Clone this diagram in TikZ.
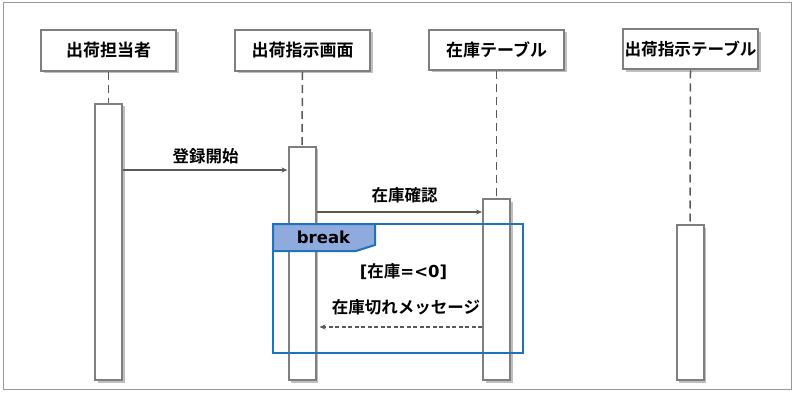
\documentclass[tikz,border=0pt]{standalone}
\usepackage{fontspec}
\setmainfont{Noto Sans CJK JP}[BoldFont={Noto Sans CJK JP Bold}]
\newfontfamily\brkfont{DejaVu Sans}
\usetikzlibrary{arrows.meta,shadows,calc}
\definecolor{boxgray}{HTML}{7F7F7F}
\definecolor{linegray}{HTML}{595959}
\definecolor{brkblue}{HTML}{1F72BE}
\definecolor{brkfill}{HTML}{8FAADC}
\tikzset{
  sdshadow/.style={drop shadow={shadow xshift=2.5pt,shadow yshift=-2.5pt,fill=black,opacity=0.25}},
  headbox/.style={draw=boxgray,line width=2pt,fill=white,minimum width=135pt,minimum height=41pt,inner sep=0pt,sdshadow,font=\fontsize{17}{17}\selectfont\bfseries},
  actbox/.style={draw=boxgray,line width=2pt,fill=white,minimum width=27pt,inner sep=0pt,anchor=north,sdshadow},
  lifeline/.style={draw=linegray,line width=1.5pt,dash pattern=on 8pt off 5pt},
  msg/.style={draw=linegray,line width=1.3pt,-{Stealth[length=6pt,width=5pt]}},
  retmsg/.style={draw=linegray,line width=1.3pt,dash pattern=on 4pt off 2.5pt,-{Stealth[length=6pt,width=5pt]}},
  lbl/.style={inner sep=0pt,font=\fontsize{16.5}{16.5}\selectfont\bfseries},
}
\begin{document}
\begin{tikzpicture}[x=1pt,y=-1pt]
\useasboundingbox (0,0) rectangle (795,393);
\draw[color=black!40,line width=1pt] (3,3) rectangle (791,389);
% headers
\node[headbox] (h1) at (108.5,50.5) {出荷担当者};
\node[headbox] (h2) at (302.5,50.5) {出荷指示画面};
\node[headbox,minimum height=40pt] (h3) at (496.5,50) {在庫テーブル};
\node[headbox,minimum height=40pt] (h4) at (690.5,49.5) {\resizebox{132pt}{!}{出荷指示テーブル}};
% activation boxes
\node[actbox,minimum height=276pt] (a1) at (108.5,103) {};
\node[actbox,minimum height=233pt] (a2) at (302,146) {};
\node[actbox,minimum height=181pt] (a3) at (496.5,198) {};
\node[actbox,minimum height=155pt] (a4) at (690,224) {};
% lifelines
\draw[lifeline] (h1.south) -- (a1.north);
\draw[lifeline] (h2.south) -- (a2.north);
\draw[lifeline] (h3.south) -- (a3.north);
\draw[lifeline] (h4.south) -- (a4.north);
% messages
\coordinate (y1) at (0,170);
\coordinate (y2) at (0,212);
\coordinate (y3) at (0,327);
\draw[msg] (a1.east|-y1) -- (a2.west|-y1);
\node[lbl] (l1) at (205.5,156) {登録開始};
\draw[msg] (a2.east|-y2) -- (a3.west|-y2);
\node[lbl] (l2) at (404.5,195.5) {在庫確認};
% break frame
\draw[brkblue,line width=2pt] (273,224) rectangle (523,353);
\draw[brkblue,line width=2pt,fill=brkfill] (273,224) -- (375,224) -- (375,245) -- (356,251) -- (273,251) -- cycle;
\node[inner sep=0pt,font=\brkfont\fontsize{16.5}{16.5}\selectfont\bfseries] (brk) at (323.5,237.5) {break};
\node[lbl] (cond) at (403.5,272) {{\brkfont [}在庫{\brkfont =<0]}};
\node[lbl] (l3) at (406,307) {在庫切れメッセージ};
\draw[retmsg] (a3.west|-y3) -- ($(a2.east|-y3)+(3,0)$);
\end{tikzpicture}
\end{document}
